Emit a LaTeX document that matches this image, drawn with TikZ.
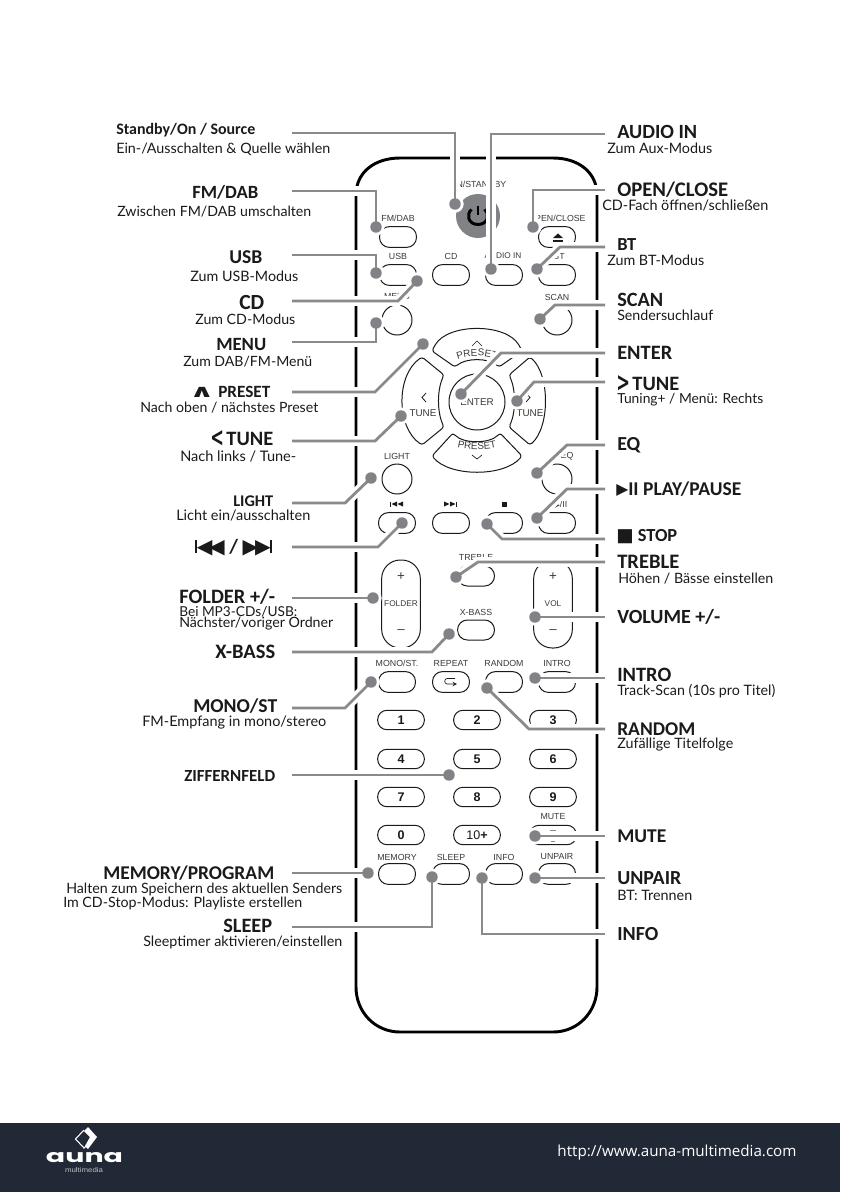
\documentclass[tikz,border=0pt]{standalone}
\usepackage{graphicx}
\usepackage{fontspec}
\setmainfont{Carlito}
\newfontfamily\subf{Lato}
\newfontfamily\djv{DejaVu Sans}
\newfontfamily\rem{Liberation Sans}
\newfontfamily\urlf{Open Sans}
\newfontfamily\logof{Poppins}
\usetikzlibrary{decorations.text}
\newdimen\pxu \pxu=0.75pt
\definecolor{wire}{HTML}{8A8A8A}
\definecolor{dotc}{HTML}{808285}
\definecolor{band}{HTML}{212936}
\definecolor{ink}{HTML}{1A1A1A}
\definecolor{keyt}{HTML}{3A3A3A}
\tikzset{
  halo/.style={draw=white,line width=7.2pt,line join=miter},
  wirel/.style={draw=wire,line width=2.1pt,line join=miter},
  ring/.style={circle,fill=white,inner sep=0pt,minimum size=13pt},
  dotn/.style={circle,fill=dotc,inner sep=0pt,minimum size=8.6pt},
  pill/.style={draw=ink,line width=0.75pt,rectangle,rounded corners=7.4pt,minimum width=27.7pt,minimum height=15.6pt,inner sep=0pt},
  numkey/.style={draw=ink,line width=0.75pt,rectangle,rounded corners=7pt,minimum width=35pt,minimum height=14.6pt,inner sep=0pt,font=\rem\bfseries\fontsize{9.4}{10}\selectfont,text=ink},
  vkey/.style={draw=ink,line width=0.75pt,rectangle,rounded corners=14pt,minimum width=29pt,minimum height=66pt,inner sep=0pt},
  rkey/.style={draw=ink,line width=0.75pt,circle,minimum size=22.5pt,inner sep=0pt},
  keytxt/.style={inner sep=0pt,text=keyt,font=\rem\fontsize{6.6}{7}\selectfont},
  lbl/.style={inner sep=0pt,anchor=west,text=ink},
  sector/.style={draw=ink,line width=0.75pt,rounded corners=2pt},
  shell/.style={draw=black,line width=2.2pt},
}
\newcommand\fitlab[6]{\node[lbl] (#1) at (#2,#3) {\resizebox{#4\pxu}{!}{#5#6}};}
\newcommand\hd{\bfseries}
\newcommand\sbt{\subf}
% connector with a corner
\newcommand\cntv[4]{\coordinate (#1s) at (#2); \coordinate (#1v) at (#3);
  \node[ring] (#1r) at (#4) {};
  \draw[halo] (#1s) -- (#1v) -- (#1r.center);
  \draw[wirel] (#1s) -- (#1v) -- (#1r.center);
  \node[dotn] (#1d) at (#1r.center) {};}
% straight connector
\newcommand\cnts[3]{\coordinate (#1s) at (#2);
  \node[ring] (#1r) at (#3) {};
  \draw[halo] (#1s) -- (#1r.center);
  \draw[wirel] (#1s) -- (#1r.center);
  \node[dotn] (#1d) at (#1r.center) {};}
\begin{document}
\begin{tikzpicture}[x=0.75pt,y=-0.75pt]
\useasboundingbox (0,0) rectangle (840,1192);
\fill[white] (0,0) rectangle (840,1192);
% footer
\fill[band] (0,1123) rectangle (840,1192);
\node[inner sep=0pt,text=white] (url) at (677,1153) {\resizebox{239\pxu}{!}{\urlf http://www.auna-multimedia.com}};
\fill[white] (88,1127) -- (97,1137) -- (88,1149) -- (85,1146) -- (90,1137) -- (84,1131) -- cycle;
\draw[white,line width=0.8pt] (84,1130) -- (75.5,1139) -- (84,1148) -- (86,1146);
\node[inner sep=0pt,text=white] (logo) at (84.5,1158) {\resizebox{77\pxu}{10\pxu}{\logof\bfseries auna}};
\node[inner sep=0pt,text=white!70!band] (logos) at (84,1170) {\resizebox{38\pxu}{5\pxu}{\rem multimedia}};
% remote shell
\draw[shell] (400,158) -- (553,158) .. controls (578,158) and (597,172) .. (597,195) -- (597,987)
  .. controls (597,1012) and (578,1032) .. (553,1032) -- (400,1032)
  .. controls (375,1032) and (356,1012) .. (356,987) -- (356,195) .. controls (356,172) and (375,158) .. (400,158) -- cycle;
% power
\node[circle,fill=dotc,inner sep=0pt,minimum size=33pt] (pw) at (478,216) {};
\draw[black,line width=2.2pt] (471.5,209.5) .. controls (466,214) and (468,224.5) .. (478,224.5) .. controls (488,224.5) and (490,214) .. (484.5,209.5);
\draw[black,line width=2.2pt] (pw.center) ++(0,-10) -- ++(0,9);
\node[keytxt] (tpw) at (478,184) {ON/STANDBY};
% row pills
\node[pill] (kfm) at (398,237) {};  \node[keytxt] (tfm) at (398,218) {FM/DAB};
\node[pill] (kop) at (557,237) {};  \node[keytxt] (top) at (557,218) {OPEN/CLOSE};
\fill[ink] (553,238) -- (558,233.5) -- (563,238) -- cycle;
\fill[ink] (553,240) rectangle (563,242);
\node[pill] (kusb) at (398,275) {}; \node[keytxt] (tusb) at (398,256) {USB};
\node[pill] (kcd) at (451,275) {};  \node[keytxt] (tcd) at (451,256) {CD};
\node[pill] (kau) at (504,275) {};  \node[keytxt,font=\rem\fontsize{6.2}{7}\selectfont] (tau) at (503,256) {AUDIO IN};
\node[pill] (kbt) at (557,275) {};  \node[keytxt] (tbt) at (559,256) {BT};
\node[rkey] (kmn) at (397,320) {};  \node[keytxt] (tmn) at (397,297) {MENU};
\node[rkey] (ksc) at (557,320) {};  \node[keytxt] (tsc) at (557,297) {SCAN};
% D-pad
\draw[sector] (434,347) .. controls (448,323) and (506,323) .. (520,347) -- (522,351) -- (499,367) .. controls (488,357.7) and (466,357.7) .. (455,367) -- (432,351) -- cycle;
\draw[sector] (422,357) .. controls (396,375) and (396,427) .. (422,445) -- (444,427) .. controls (437,412) and (437,390) .. (444,375) -- cycle;
\draw[sector] (530,357) .. controls (550,375) and (550,427) .. (530,445) -- (509,427) .. controls (516,412) and (516,390) .. (509,375) -- cycle;
\draw[sector] (432,456) .. controls (450,477) and (504,477) .. (522,456) -- (500,433) .. controls (490,444) and (463,444) .. (453,433) -- cycle;
\node[circle,draw=ink,line width=0.75pt,inner sep=0pt,minimum size=42pt] (kent) at (477,402) {};
\node[keytxt,font=\rem\fontsize{7.4}{8}\selectfont] (tent) at (477,402) {ENTER};
\path[decorate,decoration={text along path,text={|\rem\fontsize{7.4}{8}\selectfont\color{keyt}|PRESET},text align=center}] (452,362) .. controls (465,354) and (489,354) .. (502,362);
\path[decorate,decoration={text along path,text={|\rem\fontsize{7.4}{8}\selectfont\color{keyt}|PRESET},text align=center}] (452,446) .. controls (465,451) and (489,451) .. (502,446);
\draw[ink,line width=0.5pt] (472,346) -- (477,341) -- (482,346);
\draw[ink,line width=0.5pt] (472,455) -- (477,459) -- (482,455);
\draw[ink,line width=0.6pt] (426,393) -- (422,397.5) -- (426,402);
\draw[ink,line width=0.6pt] (526,393) -- (530,397.5) -- (526,402);
\node[keytxt,font=\rem\fontsize{7.4}{8}\selectfont] (ttl) at (423,413) {TUNE};
\node[keytxt,font=\rem\fontsize{7.4}{8}\selectfont] (ttr) at (530,413) {TUNE};
% light/eq
\node[rkey] (klt) at (397,479) {}; \node[keytxt] (tlt) at (397,456) {LIGHT};
\node[rkey] (keq) at (557,479) {}; \node[keytxt] (teq) at (567,456) {EQ};
% transport
\node[pill] (kpr) at (397,523) {};
\node[pill] (knx) at (451,523) {};
\node[pill] (kst) at (504,523) {};
\node[pill] (kpl) at (557,523) {};
\fill[ink] (390,501.5) rectangle (391,506.5); \fill[ink] (397,501.5) -- (391.5,504) -- (397,506.5) -- cycle; \fill[ink] (403,501.5) -- (397.5,504) -- (403,506.5) -- cycle;
\fill[ink] (444,501.5) -- (449.5,504) -- (444,506.5) -- cycle; \fill[ink] (450,501.5) -- (455.5,504) -- (450,506.5) -- cycle; \fill[ink] (456,501.5) rectangle (457,506.5);
\fill[ink] (501.5,501.5) rectangle (506.5,506.5);
\node[keytxt] (tpl) at (561,505) {\djv\fontsize{5}{6}\selectfont ▶\rem\fontsize{6.6}{7}\selectfont/II};
% folder, vol
\node[vkey] (kfo) at (401,604) {};
\node[vkey] (kvo) at (553,604) {};
\node[keytxt,font=\rem\fontsize{6.2}{7}\selectfont] (tfo) at (401,604) {FOLDER};
\node[keytxt,font=\rem\fontsize{6.2}{7}\selectfont] (tvo) at (553,604) {VOL};
\node[keytxt,font=\rem\fontsize{10}{10}\selectfont] (pf) at (401,577) {+};
\node[keytxt,font=\rem\fontsize{10}{10}\selectfont] (mf) at (401,632) {–};
\node[keytxt,font=\rem\fontsize{10}{10}\selectfont] (pv) at (553,577) {+};
\node[keytxt,font=\rem\fontsize{10}{10}\selectfont] (mv) at (553,632) {–};
\node[pill,minimum height=15pt] (ktr) at (476,576) {}; \node[keytxt] (ttre) at (476,557) {TREBLE};
\node[pill,minimum height=15pt] (kxb) at (476,630) {}; \node[keytxt] (txb) at (476,612) {X-BASS};
% mode row
\node[pill] (kmo) at (397,682) {}; \node[keytxt] (tmo) at (397,663) {MONO/ST.};
\node[pill] (kre) at (451,682) {}; \node[keytxt] (tre) at (451,663) {REPEAT};
\draw[ink,line width=0.5pt,-stealth] (455,678.5) -- (447,678.5) .. controls (444,678.5) and (444,684) .. (447,684) -- (457,684);
\node[pill] (kra) at (504,682) {}; \node[keytxt] (tra) at (504,663) {RANDOM};
\node[pill] (kin) at (557,682) {}; \node[keytxt] (tin) at (557,663) {INTRO};
% numbers
\node[numkey] (n1) at (401,720) {1}; \node[numkey] (n2) at (477,720) {2}; \node[numkey] (n3) at (553,720) {3};
\node[numkey] (n4) at (401,759) {4}; \node[numkey] (n5) at (477,759) {5}; \node[numkey] (n6) at (553,759) {6};
\node[numkey] (n7) at (401,797) {7}; \node[numkey] (n8) at (477,797) {8}; \node[numkey] (n9) at (553,797) {9};
\node[numkey] (n0) at (401,835) {0}; \node[numkey] (n10) at (477,835) {\mdseries 10\bfseries +};
\node[numkey] (nmu) at (553,835) {}; \node[keytxt] (tmu) at (553,817) {MUTE};
\fill[keyt!60] (550,830) rectangle (556,830.8); \fill[keyt!60] (551,841) rectangle (555,841.8);
% lower row
\node[pill] (kme) at (397,874) {}; \node[keytxt] (tme) at (397,857) {MEMORY};
\node[pill] (ksl) at (451,874) {}; \node[keytxt] (tsl) at (451,857) {SLEEP};
\node[pill] (kif) at (504,874) {}; \node[keytxt] (tif) at (504,857) {INFO};
\node[pill] (kun) at (557,874) {}; \node[keytxt] (tun) at (557,857) {UNPAIR};
% connectors left
\cntv{a1}{292,133}{455,133}{455,204}
\cntv{a2}{292,191}{376,191}{376,227}
\cntv{a3}{292,255}{376,255}{376,273}
\cntv{a4}{292,301}{398,301}{417,281}
\cntv{a5}{292,342}{376,342}{376,323}
\cntv{a6}{292,392}{375,392}{423,344}
\cntv{a7}{292,441}{375,441}{401,416}
\cntv{a8}{292,503}{345,503}{371,478}
\cntv{a9}{292,547}{378,547}{402,523}
\cnts{a10}{292,598}{373,598}
\cntv{a11}{292,652}{432,652}{449,634}
\cntv{a12}{292,708}{345,708}{371,682}
\cnts{a13}{292,775}{449,775}
\cnts{a14}{292,873}{368,873}
\cntv{a15}{292,927}{432,927}{432,877}
% connectors right
\cntv{b1}{605,134}{491,134}{491,269}
\cntv{b2}{605,190}{533,190}{533,227}
\cntv{b3}{605,247}{560,247}{537,269}
\cntv{b4}{605,305}{555,305}{540,319}
\cntv{b5}{605,353}{501,353}{461,394}
\cntv{b6}{605,382}{534,382}{517,401}
\cntv{b7}{605,445}{567,445}{537,473}
\cntv{b8}{605,489}{567,489}{537,518}
\cntv{b9}{605,539}{502,539}{487,524}
\cntv{b10}{605,562}{478,562}{456,577}
\cnts{b11}{605,617}{535,617}
\cnts{b12}{605,678}{535,678}
\cntv{b13}{605,729}{529,729}{487,688}
\cnts{b14}{605,836}{535,836}
\cnts{b15}{605,878}{535,878}
\cntv{b16}{605,934}{482,934}{482,878}
% labels left
\fitlab{l1}{116}{130}{139}{\hd}{Standby/On / Source}
\fitlab{l1s}{116}{149}{214}{\sbt}{Ein-/Ausschalten \& Quelle wählen}
\fitlab{l2}{192}{192}{66}{\hd}{FM/DAB}
\fitlab{l2s}{117}{212}{194}{\sbt}{Zwischen FM/DAB umschalten}
\fitlab{l3}{229}{257}{33}{\hd}{USB}
\fitlab{l3s}{190}{276}{108}{\sbt}{Zum USB-Modus}
\fitlab{l4}{239}{303}{25}{\hd}{CD}
\fitlab{l4s}{195}{319}{100}{\sbt}{Zum CD-Modus}
\fitlab{l5}{216}{344}{50}{\hd}{MENU}
\fitlab{l5s}{183}{362}{129}{\sbt}{Zum DAB/FM-Menü}
\fitlab{l6}{189}{392}{81}{\hd}{{\djv\bfseries\fontsize{12}{12}\selectfont\scalebox{1.5}[.85]{∧}} PRESET}
\fitlab{l6s}{140}{408}{178}{\sbt}{Nach oben / nächstes Preset}
\fitlab{l7}{210}{439}{63}{\hd}{\raisebox{-.08em}{\djv\bfseries\fontsize{10}{10}\selectfont\scalebox{.8}[1.3]{<}}\kern.12em TUNE}
\fitlab{l7s}{180}{456}{116}{\sbt}{Nach links / Tune-}
\fitlab{l8}{233}{501}{40}{\hd}{LIGHT}
\fitlab{l8s}{176}{515}{134}{\sbt}{Licht ein/ausschalten}
\fitlab{l9}{195}{548}{77}{\hd}{{\djv\rule[.05em]{.1em}{.62em}\kern-.02em◀\kern-.16em◀} / {\djv ▶\kern-.16em▶\kern-.02em\rule[.05em]{.1em}{.62em}}}
\fitlab{l10}{179}{597}{96}{\hd}{FOLDER +/-}
\fitlab{l10s}{179}{612}{118}{\sbt}{Bei MP3-CDs/USB:}
\fitlab{l10t}{179}{624}{154}{\sbt}{Nächster/voriger Ordner}
\fitlab{l11}{215}{652}{60}{\hd}{X-BASS}
\fitlab{l12}{193}{706}{84}{\hd}{MONO/ST}
\fitlab{l12s}{142}{722}{184}{\sbt}{FM-Empfang in mono/stereo}
\fitlab{l13}{184}{776}{91}{\hd}{ZIFFERNFELD}
\fitlab{l14}{103}{873}{171}{\hd}{MEMORY/PROGRAM}
\fitlab{l14s}{66}{889}{276}{\sbt}{Halten zum Speichern des aktuellen Senders}
\fitlab{l14t}{63}{903}{239}{\sbt}{Im CD-Stop-Modus: Playliste erstellen}
\fitlab{l15}{223}{926}{49}{\hd}{SLEEP}
\fitlab{l15s}{143}{942}{199}{\sbt}{Sleeptimer aktivieren/einstellen}
% labels right
\fitlab{r1}{617}{132}{80}{\hd}{AUDIO IN}
\fitlab{r1s}{607}{148}{105}{\sbt}{Zum Aux-Modus}
\fitlab{r2}{617}{190}{111}{\hd}{OPEN/CLOSE}
\fitlab{r2s}{602}{206}{166}{\sbt}{CD-Fach öffnen/schließen}
\fitlab{r3}{617}{245}{19}{\hd}{BT}
\fitlab{r3s}{607}{260}{97}{\sbt}{Zum BT-Modus}
\fitlab{r4}{617}{300}{46}{\hd}{SCAN}
\fitlab{r4s}{617}{315}{96}{\sbt}{Sendersuchlauf}
\fitlab{r5}{617}{353}{55}{\hd}{ENTER}
\fitlab{r6}{616}{384}{63}{\hd}{\raisebox{-.08em}{\djv\bfseries\fontsize{10}{10}\selectfont\scalebox{.8}[1.3]{>}}\kern.12em TUNE}
\fitlab{r6s}{617}{400}{146}{\sbt}{Tuning+ / Menü: Rechts}
\fitlab{r7}{617}{445}{23}{\hd}{EQ}
\fitlab{r8}{616}{489}{125}{\hd}{\raisebox{.07em}{\djv\fontsize{8}{8}\selectfont ▶}II PLAY/PAUSE}
\fitlab{r9}{616}{537}{61}{\hd}{{\djv ■} STOP}
\fitlab{r10}{617}{562}{62}{\hd}{TREBLE}
\fitlab{r10s}{618}{579}{155}{\sbt}{Höhen / Bässe einstellen}
\fitlab{r11}{617}{617}{103}{\hd}{VOLUME +/-}
\fitlab{r12}{617}{675}{54}{\hd}{INTRO}
\fitlab{r12s}{617}{691}{158}{\sbt}{Track-Scan (10s pro Titel)}
\fitlab{r13}{617}{729}{78}{\hd}{RANDOM}
\fitlab{r13s}{617}{745}{116}{\sbt}{Zufällige Titelfolge}
\fitlab{r14}{617}{836}{49}{\hd}{MUTE}
\fitlab{r15}{617}{878}{64}{\hd}{UNPAIR}
\fitlab{r15s}{617}{895}{75}{\sbt}{BT: Trennen}
\fitlab{r16}{617}{934}{41}{\hd}{INFO}
\end{tikzpicture}
\end{document}
